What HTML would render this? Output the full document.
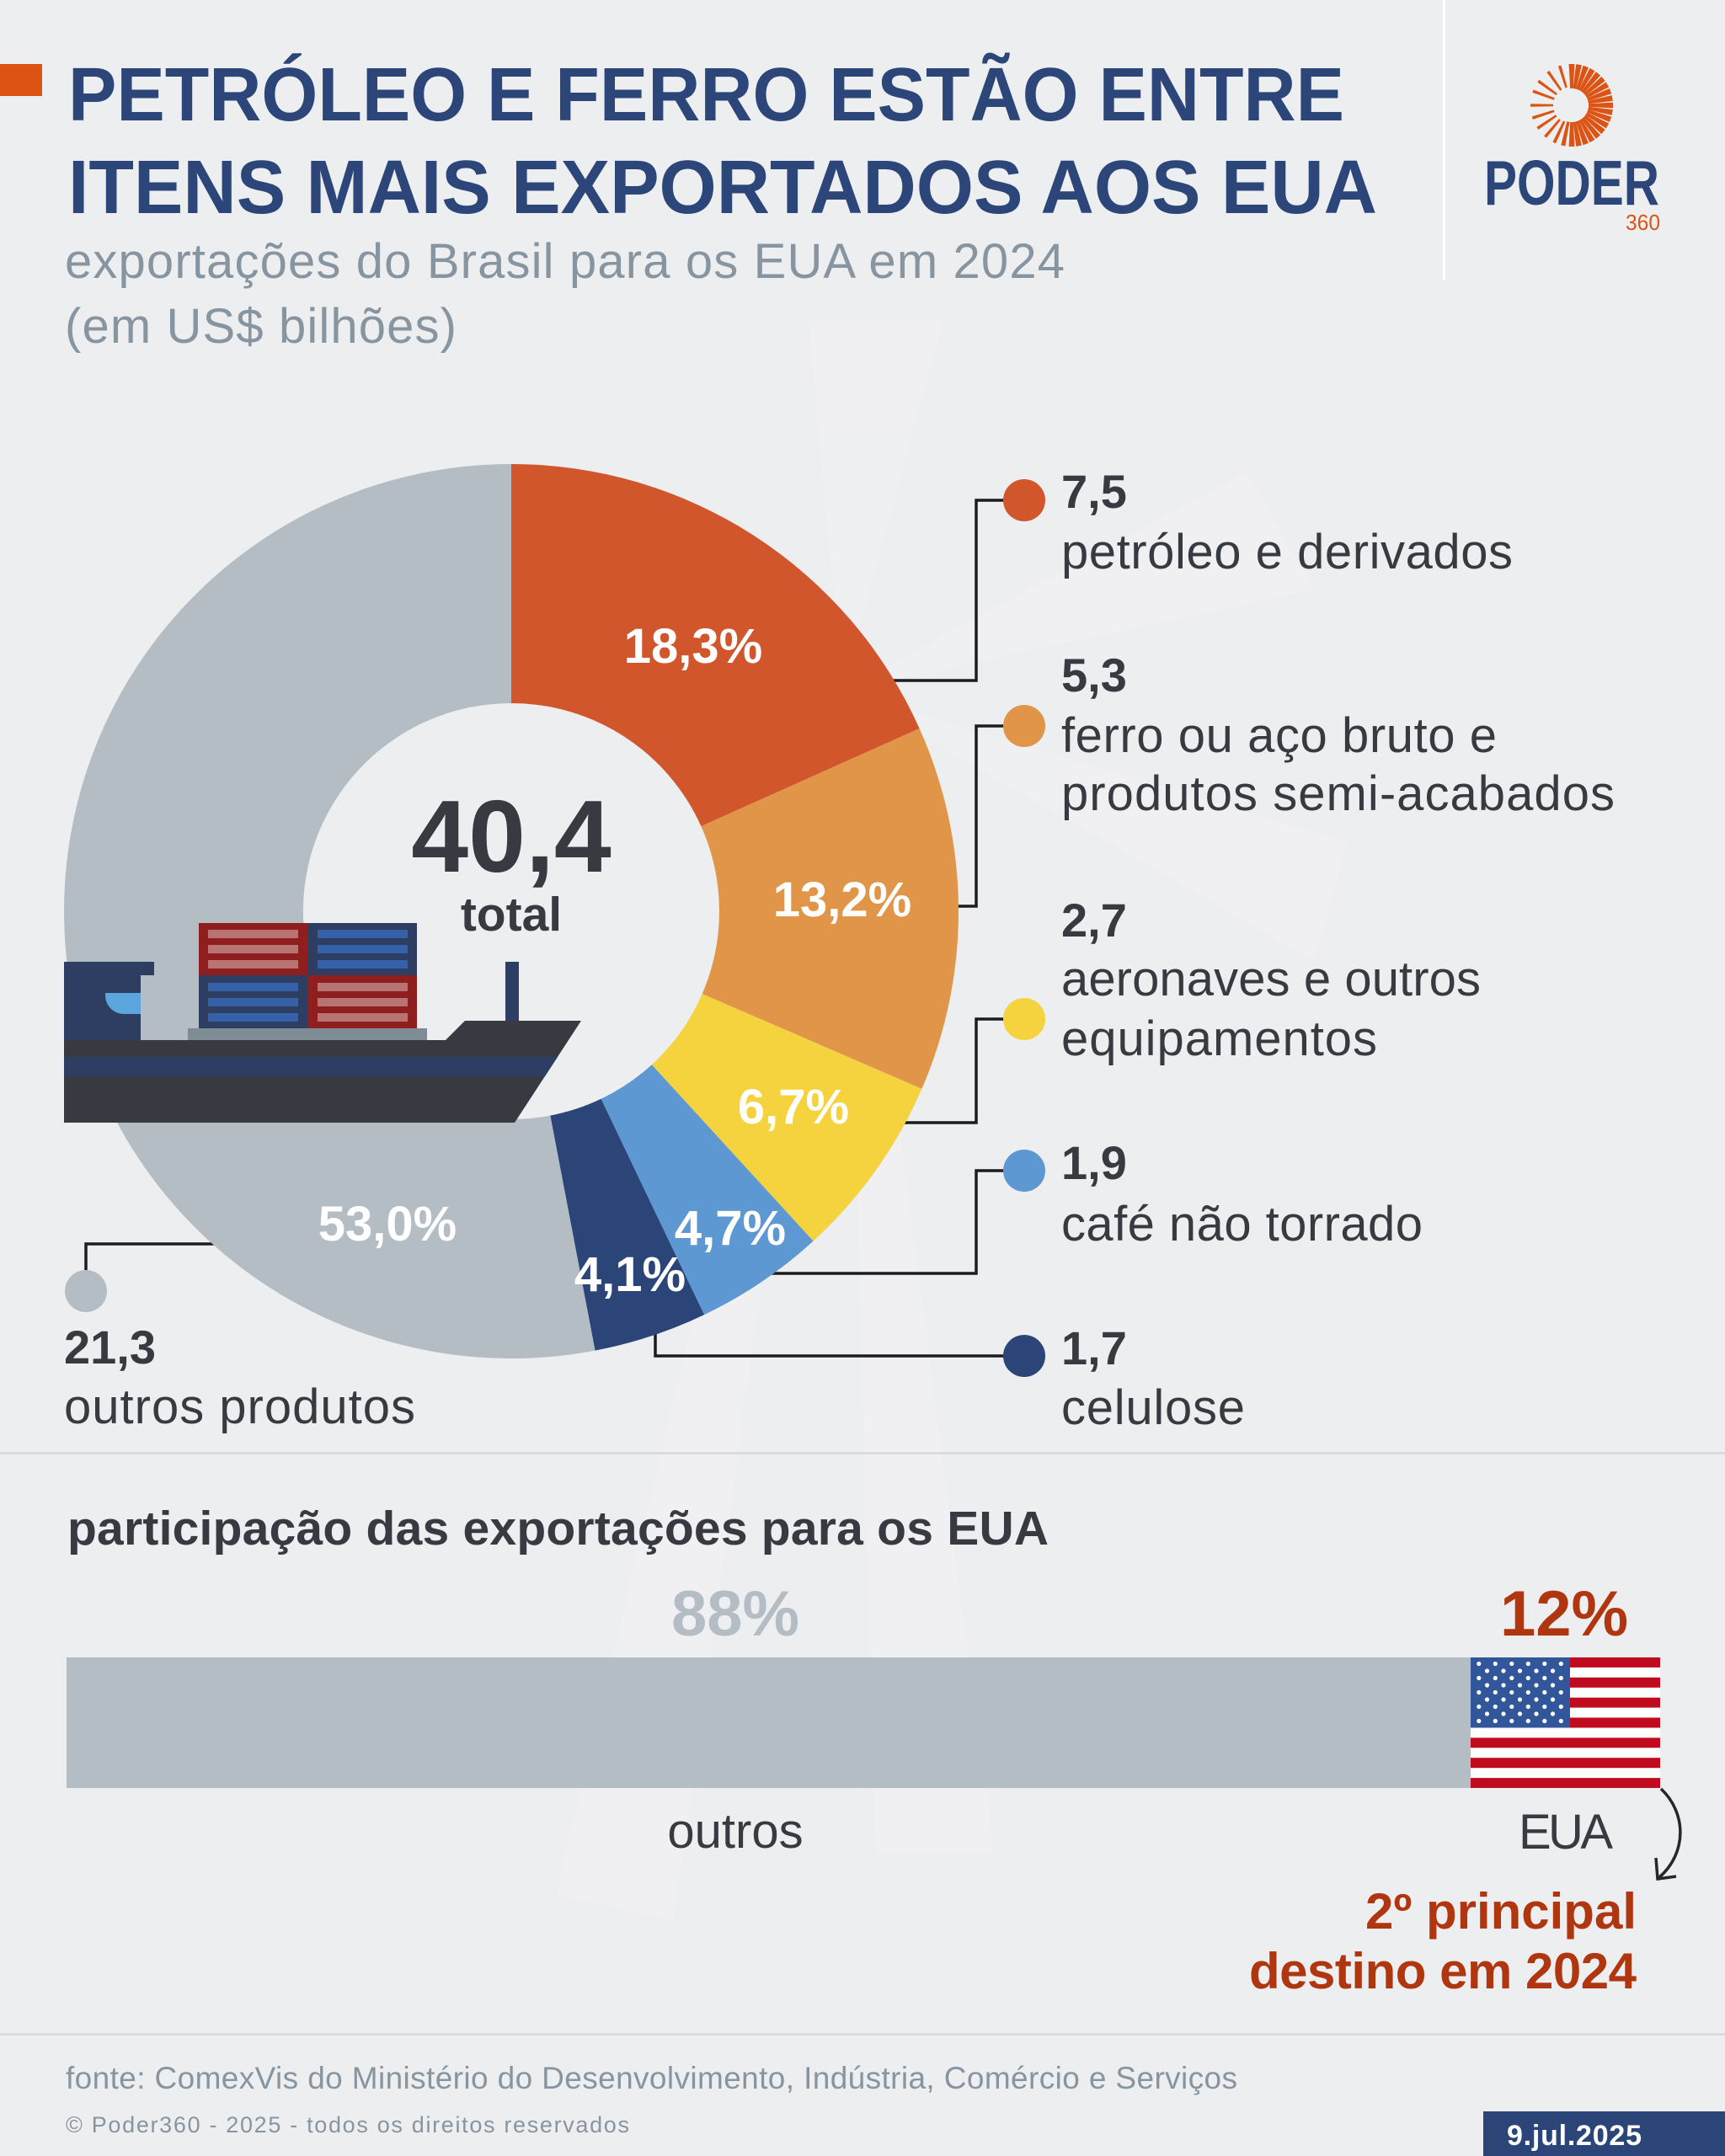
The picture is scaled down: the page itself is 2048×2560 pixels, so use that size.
<!DOCTYPE html>
<html><head><meta charset="utf-8">
<style>
html,body{margin:0;padding:0;background:#edeef0;}
svg{display:block;}
text{font-family:"Liberation Sans",Arial,sans-serif;}
</style></head>
<body>
<svg width="2048" height="2560" viewBox="0 0 2048 2560" xmlns="http://www.w3.org/2000/svg">
<rect x="0" y="0" width="2048" height="2560" fill="#edeef0"/>
<!-- faint watermark rays -->
<g fill="#f1f2f4" opacity="0.6">
<polygon points="1000,820 960,380 1120,380"/>
<polygon points="1000,820 1480,560 1560,700"/>
<polygon points="1000,820 1600,1000 1560,1140"/>
<polygon points="1000,820 1040,2200 1180,2200"/>
<polygon points="1000,820 660,2250 800,2280"/>
</g>

<!-- header -->
<rect x="0" y="76" width="50" height="38" fill="#dc5314"/>
<text x="81" y="143" font-size="90" font-weight="bold" fill="#2c4679" textLength="1515" lengthAdjust="spacingAndGlyphs">PETRÓLEO E FERRO ESTÃO ENTRE</text>
<text x="81" y="253" font-size="90" font-weight="bold" fill="#2c4679" textLength="1554" lengthAdjust="spacingAndGlyphs">ITENS MAIS EXPORTADOS AOS EUA</text>
<text x="77" y="330" font-size="58" fill="#8795a0" textLength="1187">exportações do Brasil para os EUA em 2024</text>
<text x="77" y="407" font-size="58" fill="#8795a0" textLength="465">(em US$ bilhões)</text>
<rect x="1713" y="0" width="3" height="333" fill="#ffffff"/>

<!-- logo -->
<g transform="translate(1866,125)" fill="#dc5314">
<polygon points="-1.8,-20 1.8,-20 3.4,-49 -3.4,-49" transform="rotate(0)"/>
<polygon points="-1.8,-20 1.8,-20 3.4,-49 -3.4,-49" transform="rotate(10)"/>
<polygon points="-1.8,-20 1.8,-20 3.4,-49 -3.4,-49" transform="rotate(20)"/>
<polygon points="-1.8,-20 1.8,-20 3.4,-49 -3.4,-49" transform="rotate(30)"/>
<polygon points="-1.8,-20 1.8,-20 3.4,-49 -3.4,-49" transform="rotate(40)"/>
<polygon points="-1.8,-20 1.8,-20 3.4,-49 -3.4,-49" transform="rotate(50)"/>
<polygon points="-1.8,-20 1.8,-20 3.4,-49 -3.4,-49" transform="rotate(60)"/>
<polygon points="-1.8,-20 1.8,-20 3.4,-49 -3.4,-49" transform="rotate(70)"/>
<polygon points="-1.8,-20 1.8,-20 3.4,-49 -3.4,-49" transform="rotate(80)"/>
<polygon points="-1.8,-20 1.8,-20 3.4,-49 -3.4,-49" transform="rotate(90)"/>
<polygon points="-1.8,-20 1.8,-20 3.4,-49 -3.4,-49" transform="rotate(100)"/>
<polygon points="-1.8,-20 1.8,-20 3.4,-49 -3.4,-49" transform="rotate(110)"/>
<polygon points="-1.8,-20 1.8,-20 3.4,-49 -3.4,-49" transform="rotate(120)"/>
<polygon points="-1.8,-20 1.8,-20 3.4,-49 -3.4,-49" transform="rotate(130)"/>
<polygon points="-1.8,-20 1.8,-20 3.4,-49 -3.4,-49" transform="rotate(140)"/>
<polygon points="-1.8,-20 1.8,-20 3.4,-49 -3.4,-49" transform="rotate(150)"/>
<polygon points="-1.8,-20 1.8,-20 3.4,-49 -3.4,-49" transform="rotate(160)"/>
<polygon points="-1.8,-20 1.8,-20 3.4,-49 -3.4,-49" transform="rotate(170)"/>
<polygon points="-1.8,-20 1.8,-20 3.4,-49 -3.4,-49" transform="rotate(180)"/>
<polygon points="-1.6,-20 1.6,-20 2.6,-49 -2.6,-49" transform="rotate(192)"/>
<polygon points="-1.4,-21 1.4,-21 2,-49 -2,-49" transform="rotate(205)"/>
<polygon points="-1.3,-22 1.3,-22 1.8,-49 -1.8,-49" transform="rotate(220)"/>
<polygon points="-1.3,-22 1.3,-22 1.8,-49 -1.8,-49" transform="rotate(236)"/>
<polygon points="-1.3,-22 1.3,-22 1.8,-49 -1.8,-49" transform="rotate(252)"/>
<polygon points="-1.3,-22 1.3,-22 1.8,-49 -1.8,-49" transform="rotate(270)"/>
<polygon points="-1.3,-22 1.3,-22 1.8,-49 -1.8,-49" transform="rotate(290)"/>
<polygon points="-1.3,-22 1.3,-22 1.8,-49 -1.8,-49" transform="rotate(306)"/>
<polygon points="-1.3,-22 1.3,-22 1.8,-49 -1.8,-49" transform="rotate(325)"/>
<polygon points="-1.3,-22 1.3,-22 1.8,-49 -1.8,-49" transform="rotate(343)"/>
</g>
<text x="1762" y="243" font-size="75" font-weight="bold" fill="#2c4679" textLength="208" lengthAdjust="spacingAndGlyphs">PODER</text>
<text x="1930" y="273" font-size="26" fill="#dc5314" textLength="41" lengthAdjust="spacingAndGlyphs">360</text>

<!-- connector lines (under donut) -->
<g stroke="#1c1c1f" stroke-width="3.5" fill="none">
<polyline points="1040,808 1159,808 1159,594 1195,594"/>
<polyline points="1120,1076 1159,1076 1159,862 1195,862"/>
<polyline points="1060,1333 1159,1333 1159,1210 1195,1210"/>
<polyline points="900,1512 1159,1512 1159,1390 1195,1390"/>
<polyline points="778,1560 778,1610 1195,1610"/>
<polyline points="102,1533 102,1477 270,1477"/>
</g>

<!-- donut -->
<path d="M607,551 A531,531 0 0 1 1091.6,865 L832.4,981.1 A247,247 0 0 0 607,835 Z" fill="#d1562c"/>
<path d="M1091.6,865 A531,531 0 0 1 1094.4,1292.9 L833.7,1180.1 A247,247 0 0 0 832.4,981.1 Z" fill="#e09548"/>
<path d="M1094.4,1292.9 A531,531 0 0 1 965.6,1473.6 L773.8,1264.2 A247,247 0 0 0 833.7,1180.1 Z" fill="#f4d33e"/>
<path d="M965.6,1473.6 A531,531 0 0 1 836.1,1561.1 L713.6,1304.8 A247,247 0 0 0 773.8,1264.2 Z" fill="#5e98d2"/>
<path d="M836.1,1561.1 A531,531 0 0 1 706.5,1603.6 L653.3,1324.6 A247,247 0 0 0 713.6,1304.8 Z" fill="#2b4579"/>
<path d="M706.5,1603.6 A531,531 0 1 1 607,551 L607,835 A247,247 0 1 0 653.3,1324.6 Z" fill="#b5bdc4"/>

<!-- dots -->
<circle cx="1216" cy="594" r="25" fill="#d1562c"/>
<circle cx="1216" cy="862" r="25" fill="#e09548"/>
<circle cx="1216" cy="1210" r="25" fill="#f4d33e"/>
<circle cx="1216" cy="1390" r="25" fill="#5e98d2"/>
<circle cx="1216" cy="1610" r="25" fill="#2b4579"/>
<circle cx="102" cy="1533" r="25" fill="#b5bdc4"/>

<!-- ship -->
<g>
<rect x="76" y="1142" width="107" height="16" fill="#2e3d62"/>
<rect x="76" y="1142" width="91" height="94" fill="#2e3d62"/>
<path d="M125,1179 L167,1179 L167,1204 L147,1204 A22,22 0 0 1 125,1182 Z" fill="#5ba6dc"/>
<rect x="236" y="1096" width="129" height="62" fill="#8f1f1f"/>
<rect x="365" y="1096" width="130" height="62" fill="#2e3d62"/>
<rect x="236" y="1158" width="129" height="63" fill="#2e3d62"/>
<rect x="365" y="1158" width="130" height="63" fill="#8f1f1f"/>
<g fill="#b87373">
<rect x="247" y="1104" width="107" height="10"/><rect x="247" y="1122" width="107" height="10"/><rect x="247" y="1140" width="107" height="10"/>
<rect x="377" y="1167" width="107" height="10"/><rect x="377" y="1185" width="107" height="10"/><rect x="377" y="1203" width="107" height="10"/>
</g>
<g fill="#3461a7">
<rect x="377" y="1104" width="107" height="10"/><rect x="377" y="1122" width="107" height="10"/><rect x="377" y="1140" width="107" height="10"/>
<rect x="247" y="1167" width="107" height="10"/><rect x="247" y="1185" width="107" height="10"/><rect x="247" y="1203" width="107" height="10"/>
</g>
<rect x="223" y="1221" width="284" height="15" fill="#7e8c96"/>
<rect x="600" y="1142" width="16" height="72" fill="#2e3d62"/>
<polygon points="76,1235 529,1235 552,1212 690,1212 611,1333 76,1333" fill="#383a42"/>
<polygon points="76,1255 662,1255 647,1278 76,1278" fill="#2e3d62"/>
</g>

<!-- center total -->
<text x="607" y="1035" font-size="122" font-weight="bold" fill="#383a41" text-anchor="middle">40,4</text>
<text x="607" y="1105" font-size="57" font-weight="bold" fill="#383a41" text-anchor="middle">total</text>

<!-- percentages -->
<g font-size="58" font-weight="bold" fill="#ffffff" text-anchor="middle">
<text x="823" y="787">18,3%</text>
<text x="1000" y="1088">13,2%</text>
<text x="942" y="1334">6,7%</text>
<text x="867" y="1478">4,7%</text>
<text x="748" y="1533">4,1%</text>
<text x="460" y="1473">53,0%</text>
</g>

<!-- legend labels -->
<g fill="#383a41">
<text x="1260" y="603" font-size="56" font-weight="bold">7,5</text>
<text x="1260" y="675" font-size="58" textLength="536">petróleo e derivados</text>
<text x="1260" y="821" font-size="56" font-weight="bold">5,3</text>
<text x="1260" y="893" font-size="58" textLength="517">ferro ou aço bruto e</text>
<text x="1260" y="962" font-size="58" textLength="657">produtos semi-acabados</text>
<text x="1260" y="1112" font-size="56" font-weight="bold">2,7</text>
<text x="1260" y="1182" font-size="58" textLength="498">aeronaves e outros</text>
<text x="1260" y="1253" font-size="58" textLength="375">equipamentos</text>
<text x="1260" y="1400" font-size="56" font-weight="bold">1,9</text>
<text x="1260" y="1473" font-size="58" textLength="429">café não torrado</text>
<text x="1260" y="1620" font-size="56" font-weight="bold">1,7</text>
<text x="1260" y="1691" font-size="58" textLength="218">celulose</text>
<text x="76" y="1619" font-size="56" font-weight="bold">21,3</text>
<text x="76" y="1690" font-size="58" textLength="417">outros produtos</text>
</g>

<rect x="0" y="1724" width="2048" height="3" fill="#d9dcdf"/>

<!-- section 2 -->
<text x="80" y="1834" font-size="57" font-weight="bold" fill="#383a41" textLength="1165">participação das exportações para os EUA</text>
<text x="873" y="1942" font-size="76" font-weight="bold" fill="#b5bdc4" text-anchor="middle">88%</text>
<text x="1857" y="1942" font-size="76" font-weight="bold" fill="#b0360f" text-anchor="middle">12%</text>
<rect x="79" y="1968" width="1892" height="155" fill="#b5bdc4"/>
<!-- flag -->
<rect x="1746" y="1968" width="225" height="155" fill="#c00a1e"/>
<g fill="#ffffff">
<rect x="1746" y="1979.9" width="225" height="11.9"/>
<rect x="1746" y="2003.8" width="225" height="11.9"/>
<rect x="1746" y="2027.6" width="225" height="11.9"/>
<rect x="1746" y="2051.5" width="225" height="11.9"/>
<rect x="1746" y="2075.3" width="225" height="11.9"/>
<rect x="1746" y="2099.2" width="225" height="11.9"/>
</g>
<rect x="1746" y="1968" width="118" height="83.5" fill="#31569a"/>
<g fill="#ffffff">
<circle cx="1755.8" cy="1975.5" r="2.6"/><circle cx="1775.3" cy="1975.5" r="2.6"/><circle cx="1794.8" cy="1975.5" r="2.6"/><circle cx="1814.3" cy="1975.5" r="2.6"/><circle cx="1833.8" cy="1975.5" r="2.6"/><circle cx="1853.3" cy="1975.5" r="2.6"/>
<circle cx="1765.5" cy="1984" r="2.6"/><circle cx="1785" cy="1984" r="2.6"/><circle cx="1804.5" cy="1984" r="2.6"/><circle cx="1824" cy="1984" r="2.6"/><circle cx="1843.5" cy="1984" r="2.6"/>
<circle cx="1755.8" cy="1992.5" r="2.6"/><circle cx="1775.3" cy="1992.5" r="2.6"/><circle cx="1794.8" cy="1992.5" r="2.6"/><circle cx="1814.3" cy="1992.5" r="2.6"/><circle cx="1833.8" cy="1992.5" r="2.6"/><circle cx="1853.3" cy="1992.5" r="2.6"/>
<circle cx="1765.5" cy="2001" r="2.6"/><circle cx="1785" cy="2001" r="2.6"/><circle cx="1804.5" cy="2001" r="2.6"/><circle cx="1824" cy="2001" r="2.6"/><circle cx="1843.5" cy="2001" r="2.6"/>
<circle cx="1755.8" cy="2009.5" r="2.6"/><circle cx="1775.3" cy="2009.5" r="2.6"/><circle cx="1794.8" cy="2009.5" r="2.6"/><circle cx="1814.3" cy="2009.5" r="2.6"/><circle cx="1833.8" cy="2009.5" r="2.6"/><circle cx="1853.3" cy="2009.5" r="2.6"/>
<circle cx="1765.5" cy="2018" r="2.6"/><circle cx="1785" cy="2018" r="2.6"/><circle cx="1804.5" cy="2018" r="2.6"/><circle cx="1824" cy="2018" r="2.6"/><circle cx="1843.5" cy="2018" r="2.6"/>
<circle cx="1755.8" cy="2026.5" r="2.6"/><circle cx="1775.3" cy="2026.5" r="2.6"/><circle cx="1794.8" cy="2026.5" r="2.6"/><circle cx="1814.3" cy="2026.5" r="2.6"/><circle cx="1833.8" cy="2026.5" r="2.6"/><circle cx="1853.3" cy="2026.5" r="2.6"/>
<circle cx="1765.5" cy="2035" r="2.6"/><circle cx="1785" cy="2035" r="2.6"/><circle cx="1804.5" cy="2035" r="2.6"/><circle cx="1824" cy="2035" r="2.6"/><circle cx="1843.5" cy="2035" r="2.6"/>
<circle cx="1755.8" cy="2043.5" r="2.6"/><circle cx="1775.3" cy="2043.5" r="2.6"/><circle cx="1794.8" cy="2043.5" r="2.6"/><circle cx="1814.3" cy="2043.5" r="2.6"/><circle cx="1833.8" cy="2043.5" r="2.6"/><circle cx="1853.3" cy="2043.5" r="2.6"/>
</g>

<text x="873" y="2194" font-size="58" fill="#383a41" text-anchor="middle">outros</text>
<text x="1859" y="2195" font-size="58" fill="#383a41" text-anchor="middle" textLength="112">EUA</text>
<path d="M1972,2124 C2002,2152 2004,2200 1969,2230" stroke="#26272b" stroke-width="3.5" fill="none"/>
<path d="M1966,2206 L1968,2231 L1990,2228" stroke="#26272b" stroke-width="3.5" fill="none"/>
<text x="1943" y="2290" font-size="60" font-weight="bold" fill="#b0360f" text-anchor="end">2º principal</text>
<text x="1943" y="2361" font-size="60" font-weight="bold" fill="#b0360f" text-anchor="end" textLength="460">destino em 2024</text>

<rect x="0" y="2414" width="2048" height="3" fill="#d9dcdf"/>

<!-- footer -->
<text x="78" y="2480" font-size="37" fill="#8795a0" textLength="1391">fonte: ComexVis do Ministério do Desenvolvimento, Indústria, Comércio e Serviços</text>
<text x="78" y="2532" font-size="27" fill="#8795a0" textLength="669">© Poder360 - 2025 - todos os direitos reservados</text>
<rect x="1761" y="2507" width="287" height="53" fill="#2b4579"/>
<text x="1789" y="2547" font-size="34" font-weight="bold" fill="#ffffff" textLength="160">9.jul.2025</text>
</svg>
</body></html>
